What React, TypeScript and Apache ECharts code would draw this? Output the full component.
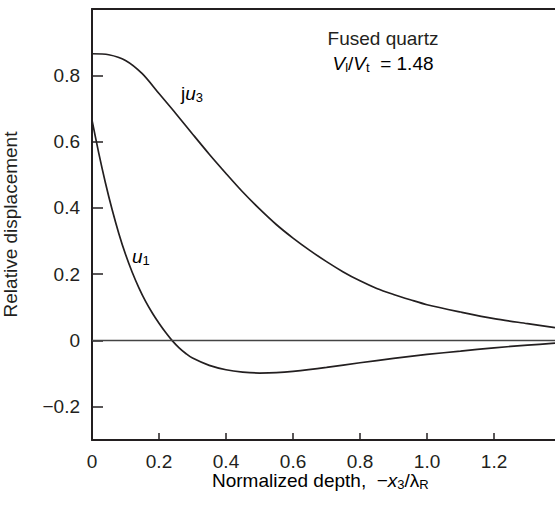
import React, { useEffect, useRef } from "react";
import * as echarts from "echarts";

const depthX = [0, 0.02, 0.04, 0.06, 0.08, 0.1, 0.12, 0.14, 0.16, 0.18, 0.2, 0.22, 0.24, 0.26, 0.28, 0.3, 0.35, 0.4, 0.45, 0.5, 0.55, 0.6, 0.7, 0.8, 0.9, 1.0, 1.1, 1.2, 1.3, 1.382];
const u1Values = [0.665, 0.566, 0.476, 0.395, 0.323, 0.26, 0.206, 0.159, 0.118, 0.083, 0.052, 0.024, -0.001, -0.022, -0.039, -0.053, -0.075, -0.088, -0.095, -0.098, -0.097, -0.093, -0.081, -0.067, -0.054, -0.042, -0.032, -0.022, -0.014, -0.008];

const u3X = [0, 0.05, 0.1, 0.15, 0.2, 0.25, 0.3, 0.35, 0.4, 0.45, 0.5, 0.55, 0.6, 0.65, 0.7, 0.75, 0.8, 0.85, 0.9, 0.95, 1.0, 1.1, 1.2, 1.3, 1.382];
const ju3Values = [0.865, 0.862, 0.845, 0.805, 0.745, 0.685, 0.623, 0.562, 0.504, 0.448, 0.397, 0.35, 0.309, 0.272, 0.238, 0.207, 0.18, 0.157, 0.139, 0.123, 0.108, 0.086, 0.066, 0.051, 0.039];

const xTickValues = [0, 0.2, 0.4, 0.6, 0.8, 1.0, 1.2];
const yTickValues = [-0.2, 0, 0.2, 0.4, 0.6, 0.8];

const INK = "#231f20";
const FONT = "Liberation Sans";

export default function App() {
  const ref = useRef<HTMLDivElement>(null);
  useEffect(() => {
    if (!ref.current) return;
    const chart = echarts.init(ref.current, undefined, { renderer: "svg" });
    const fmtX = (v: number) => (v === 0 ? "0" : v.toFixed(1));
    const fmtY = (v: number) =>
      Math.abs(v) < 1e-9 ? "0" : v < 0 ? "\u2212" + Math.abs(v).toFixed(1) : v.toFixed(1);
    const sub = { fontSize: 13, fontFamily: FONT, color: INK, padding: [9, 0, 0, 0], lineHeight: 18 };
    const it = { fontSize: 19, fontFamily: FONT, color: INK, fontStyle: "italic", lineHeight: 18 };
    const nm = { fontSize: 19, fontFamily: FONT, color: INK, lineHeight: 18 };
    chart.setOption({
      animation: false,
      grid: { left: 92, right: 0, top: 9, bottom: 65, containLabel: false, outerBoundsMode: "none" },
      xAxis: [
        {
          type: "value",
          min: 0,
          max: 1.382,
          position: "bottom",
          axisLine: { show: true, onZero: false, lineStyle: { color: INK, width: 2 } },
          axisTick: { show: true, inside: true, length: 7, customValues: xTickValues, lineStyle: { color: INK, width: 1.5 } },
          axisLabel: { customValues: xTickValues, formatter: fmtX, margin: 13, fontSize: 19, lineHeight: 16, fontFamily: FONT, color: INK },
          splitLine: { show: false },
        },
        {
          type: "value",
          min: 0,
          max: 1.382,
          position: "top",
          axisLine: { show: true, onZero: false, lineStyle: { color: INK, width: 2 } },
          axisTick: { show: false },
          axisLabel: { show: false },
          splitLine: { show: false },
        },
      ],
      yAxis: {
        type: "value",
        min: -0.3,
        max: 1.0,
        name: "Relative displacement",
        nameLocation: "middle",
        nameGap: 72,
        nameTextStyle: { fontSize: 19, fontFamily: FONT, color: INK },
        axisLine: { show: true, onZero: false, lineStyle: { color: INK, width: 2 } },
        axisTick: { show: true, inside: true, length: 11, customValues: yTickValues, lineStyle: { color: INK, width: 1.5 } },
        axisLabel: { customValues: yTickValues, formatter: fmtY, margin: 12, fontSize: 19, fontFamily: FONT, color: INK },
        splitLine: { show: false },
      },
      series: [
        {
          name: "ju3",
          type: "line",
          data: u3X.map((x, i) => [x, ju3Values[i]]),
          smooth: 0.3,
          showSymbol: false,
          lineStyle: { color: INK, width: 1.7 },
          markLine: {
            silent: true,
            symbol: "none",
            label: { show: false },
            lineStyle: { color: "#444", width: 1.3, type: "solid" },
            data: [{ yAxis: 0 }],
          },
        },
        {
          name: "u1",
          type: "line",
          data: depthX.map((x, i) => [x, u1Values[i]]),
          smooth: 0.3,
          showSymbol: false,
          lineStyle: { color: INK, width: 1.7 },
        },
      ],
      graphic: [
        {
          type: "text",
          x: 383,
          y: 38,
          style: { text: "Fused quartz", fontSize: 19, fontFamily: FONT, fill: INK, textAlign: "center", textVerticalAlign: "middle" },
        },
        {
          type: "text",
          x: 383,
          y: 63,
          style: {
            text: "{i|V}{s|l}{n|/}{i|V}{s|t}{n|  = 1.48}",
            rich: { i: it, s: sub, n: nm },
            textAlign: "center",
            textVerticalAlign: "middle",
          },
        },
        {
          type: "text",
          x: 181,
          y: 93,
          style: {
            text: "{n|j}{i|u}{s|3}",
            rich: { i: it, s: sub, n: nm },
            textAlign: "left",
            textVerticalAlign: "middle",
          },
        },
        {
          type: "text",
          x: 132,
          y: 256,
          style: {
            text: "{i|u}{s|1}",
            rich: { i: it, s: sub, n: nm },
            textAlign: "left",
            textVerticalAlign: "middle",
          },
        },
        {
          type: "text",
          x: 212,
          y: 480,
          style: {
            text: "{n|Normalized depth,  \u2212}{i|x}{s|3}{n|/\u03bb}{s|R}",
            rich: { i: it, s: sub, n: nm },
            textAlign: "left",
            textVerticalAlign: "middle",
          },
        },
      ],
    });
    return () => chart.dispose();
  }, []);
  return <div ref={ref} style={{ position: "absolute", left: 0, top: 0, width: 555, height: 505 }} />;
}
